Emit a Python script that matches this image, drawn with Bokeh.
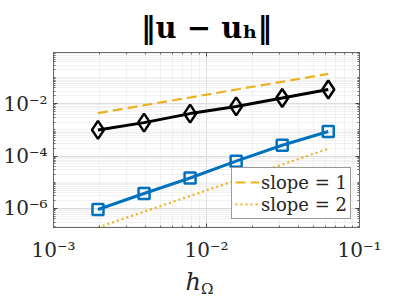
from bokeh.plotting import figure
from bokeh.models import (FixedTicker, CustomJSTickFormatter, LogAxis, Div,
                          Legend, LegendItem, Range1d)
from bokeh.layouts import column
from bokeh.embed import file_html
from bokeh.resources import INLINE

# ---- data ----
h = [0.001953125, 0.00390625, 0.0078125, 0.015625, 0.03125, 0.0625]
err_black = [1.0e-3, 1.9e-3, 4.2e-3, 7.9e-3, 1.66e-2, 3.5e-2]
err_blue = [9.1e-7, 3.7e-6, 1.45e-5, 6.4e-5, 2.6e-4, 8.7e-4]
ref_h = [0.001953125, 0.0625]
slope1 = [4.4e-3, 0.138]
slope2 = [1.87e-7, 1.9e-4]
x_major = [1e-3, 1e-2, 1e-1]
y_major = [1e-6, 1e-4, 1e-2]
legend_labels = ["slope = 1", "slope = 2"]

FONT = "DejaVu Serif"
TXT = "#262626"

p = figure(x_axis_type="log", y_axis_type="log",
           frame_width=306, frame_height=175,
           min_border_left=47, min_border_right=30,
           min_border_top=46, min_border_bottom=40,
           x_range=Range1d(1e-3, 1e-1), y_range=Range1d(1.86e-7, 0.91),
           output_backend="svg", toolbar_location=None,
           background_fill_color="white", border_fill_color="white")

x_minor = [k * 10.0 ** e for e in range(-3, -1) for k in range(2, 10)]
y_minor = [k * 10.0 ** e for e in range(-7, 0) for k in range(1, 10)
           if not (k == 1 and 10.0 ** e in y_major)]

fmt = CustomJSTickFormatter(code="""
const e = Math.round(Math.log10(tick));
const sup = {'-':'\u207b','0':'\u2070','1':'\u00b9','2':'\u00b2','3':'\u00b3','4':'\u2074','5':'\u2075','6':'\u2076','7':'\u2077','8':'\u2078','9':'\u2079'};
return '10' + String(e).split('').map(c => sup[c]).join('');
""")
blank = CustomJSTickFormatter(code="return '';")

def style_axis(ax, major, minor, show_labels):
    ax.ticker = FixedTicker(ticks=major, minor_ticks=minor)
    ax.major_tick_in = 4
    ax.major_tick_out = 0
    ax.minor_tick_in = 2
    ax.minor_tick_out = 0
    ax.axis_line_color = "#666666"
    ax.major_tick_line_color = "#444444"
    ax.minor_tick_line_color = "#666666"
    if show_labels:
        ax.formatter = fmt
        ax.major_label_text_font = FONT
        ax.major_label_text_font_size = "20px"
        ax.major_label_text_color = TXT
    else:
        ax.formatter = blank
        ax.major_label_standoff = 0

style_axis(p.xaxis[0], x_major, x_minor, True)
style_axis(p.yaxis[0], y_major, y_minor, True)
p.xaxis[0].major_label_standoff = 10
p.yaxis[0].major_label_standoff = 6

top = LogAxis()
style_axis(top, x_major, x_minor, False)
p.add_layout(top, "above")
right = LogAxis()
style_axis(right, y_major, y_minor, False)
p.add_layout(right, "right")

for g, maj, mn in ((p.xgrid[0], x_major, x_minor), (p.ygrid[0], y_major, y_minor)):
    g.ticker = FixedTicker(ticks=maj, minor_ticks=mn)
    g.grid_line_color = "#dcdcdc"
    g.grid_line_width = 1
    g.minor_grid_line_color = "#e4e4e4"
    g.minor_grid_line_dash = "1 1"

p.outline_line_color = "#666666"
p.outline_line_width = 1

# title
p.title.text = "\u2016u \u2212 u\u2095\u2016"
p.title.text_font = FONT
p.title.text_font_style = "bold"
p.title.text_font_size = "29px"
p.title.align = "center"
p.title.text_color = "black"
p.title.standoff = 16

# data lines
BLUE = "#0072BD"
ORANGE = "#EDB120"
r1 = p.line(ref_h, slope1, line_color=ORANGE, line_width=2.2, line_dash="10 5")
r2 = p.line(ref_h, slope2, line_color=ORANGE, line_width=2.2, line_dash="2 3")
p.line(h, err_black, line_color="black", line_width=3)
p.scatter(h, err_black, marker="diamond", size=18, line_color="black",
          line_width=2.5, fill_alpha=0)
p.line(h, err_blue, line_color=BLUE, line_width=3)
p.scatter(h, err_blue, marker="square", size=11, line_color=BLUE,
          line_width=2.5, fill_alpha=0)

legend = Legend(items=[LegendItem(label=legend_labels[0], renderers=[r1]),
                       LegendItem(label=legend_labels[1], renderers=[r2])],
                location="bottom_right")
legend.label_text_font = FONT
legend.label_text_font_size = "18px"
legend.label_text_color = TXT
legend.glyph_width = 24
legend.glyph_height = 22
legend.label_height = 22
legend.label_standoff = 2
legend.spacing = 0
legend.padding = 3
legend.margin = 8
legend.border_line_color = "#333333"
legend.border_line_width = 1
legend.background_fill_alpha = 1
p.add_layout(legend, "center")

# x-axis label h_Omega as HTML text below the figure
xlabel = Div(text=(
    '<div style="width:383px; text-align:center; padding-left:16px; box-sizing:border-box; '
    'font-family:\'DejaVu Serif\'; color:#262626; line-height:1; margin:0">'
    '<span style="font-size:24px; font-style:italic">h</span>'
    '<span style="font-size:15px; position:relative; top:4px">\u03a9</span></div>'),
    width=383, height=24, margin=(3, 0, 0, 0))

layout = column(p, xlabel, spacing=0)
open("out.html", "w").write(file_html(layout, INLINE))
